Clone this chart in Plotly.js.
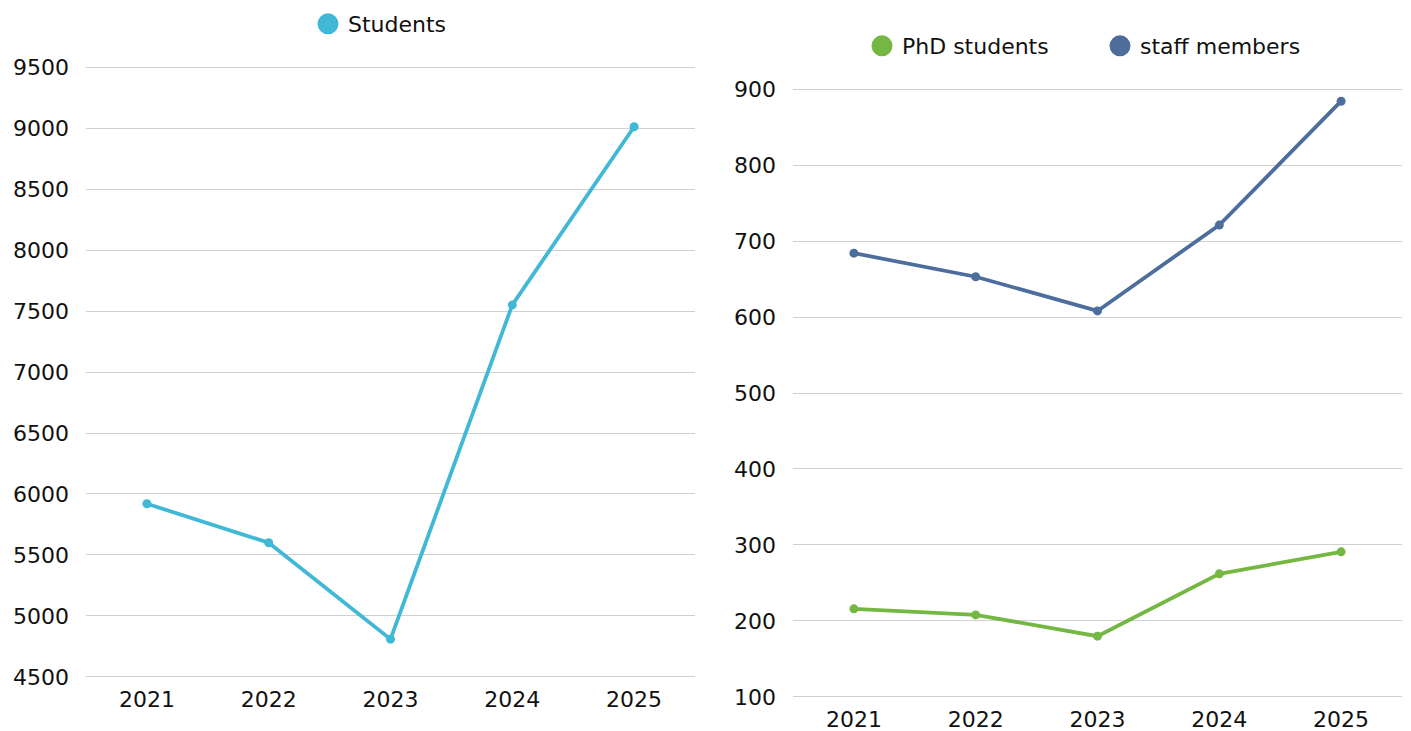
<!DOCTYPE html>
<html>
<head>
<meta charset="utf-8">
<script src="https://cdn.plot.ly/plotly-3.0.1.min.js"></script>
<style>html,body{margin:0;padding:0;background:#fff;}#chart{width:1411px;height:731px;}</style>
</head>
<body>
<div id="chart"></div>
<script>
const years = ['2021', '2022', '2023', '2024', '2025'];
const students = [5920, 5600, 4810, 7550, 9010];
const phdStudents = [216, 208, 180, 262, 291];
const staffMembers = [684, 653, 608, 721, 884];

const cStudents = '#41b8d5';
const cPhd = '#74b843';
const cStaff = '#4d6e9c';
const FONT = 'DejaVu Sans';

function lineTrace(x, y, color, name, xa, ya) {
  return {
    x: x, y: y, type: 'scatter', mode: 'lines+markers', name: name,
    xaxis: xa, yaxis: ya, showlegend: false,
    line: {color: color, width: 3.8}, marker: {color: color, size: 9},
    hoverinfo: 'x+y'
  };
}
function legTrace(color, name, xa, ya, leg) {
  return {
    x: [null], y: [null], type: 'scatter', mode: 'markers', name: name,
    xaxis: xa, yaxis: ya, legend: leg, showlegend: true,
    marker: {color: color, size: 16, line: {color: color, width: 5}}
  };
}

const data = [
  lineTrace(years, students, cStudents, 'Students', 'x', 'y'),
  lineTrace(years, phdStudents, cPhd, 'PhD students', 'x2', 'y2'),
  lineTrace(years, staffMembers, cStaff, 'staff members', 'x2', 'y2'),
  legTrace(cStudents, 'Students', 'x', 'y', 'legend'),
  legTrace(cPhd, 'PhD students', 'x2', 'y2', 'legend2'),
  legTrace(cStaff, 'staff members', 'x2', 'y2', 'legend2')
];

const tickFont = {family: FONT, size: 22, color: '#111'};
const yCommon = {showgrid: true, gridcolor: '#d0d0d0', gridwidth: 1, zeroline: false, showline: false, ticks: '', tickfont: tickFont, ticklabelstandoff: 16};
const xCommon = {type: 'category', showgrid: false, zeroline: false, showline: false, ticks: '', tickfont: tickFont, range: [-0.5, 4.5], ticklabelstandoff: 6};

// ranges padded slightly so the edge gridlines are drawn
const layout = {
  width: 1411, height: 731,
  margin: {l: 0, r: 0, t: 0, b: 0},
  paper_bgcolor: '#fff', plot_bgcolor: '#fff',
  font: {family: FONT, color: '#111'},
  xaxis: Object.assign({}, xCommon, {domain: [86/1411, 695/1411], anchor: 'y'}),
  yaxis: Object.assign({}, yCommon, {domain: [1-678.2/731, 1-65.8/731], range: [4490, 9510], dtick: 500, tick0: 4500, anchor: 'x'}),
  xaxis2: Object.assign({}, xCommon, {domain: [793/1411, 1402/1411], anchor: 'y2'}),
  yaxis2: Object.assign({}, yCommon, {domain: [1-698.1/731, 1-87.9/731], range: [98.5, 901.5], dtick: 100, tick0: 100, anchor: 'x2'}),
  legend: {orientation: 'h', x: 380/1411, xanchor: 'center', y: 1-24/731, yanchor: 'middle', font: {family: FONT, size: 22, color: '#111'}, bgcolor: 'rgba(0,0,0,0)'},
  legend2: {orientation: 'h', x: 1100/1411, xanchor: 'center', y: 1-46/731, yanchor: 'middle', font: {family: FONT, size: 22, color: '#111'}, bgcolor: 'rgba(0,0,0,0)', entrywidth: 193, entrywidthmode: 'pixels'},
  showlegend: true
};

Plotly.newPlot('chart', data, layout, {displayModeBar: false, staticPlot: true});
</script>
</body>
</html>
